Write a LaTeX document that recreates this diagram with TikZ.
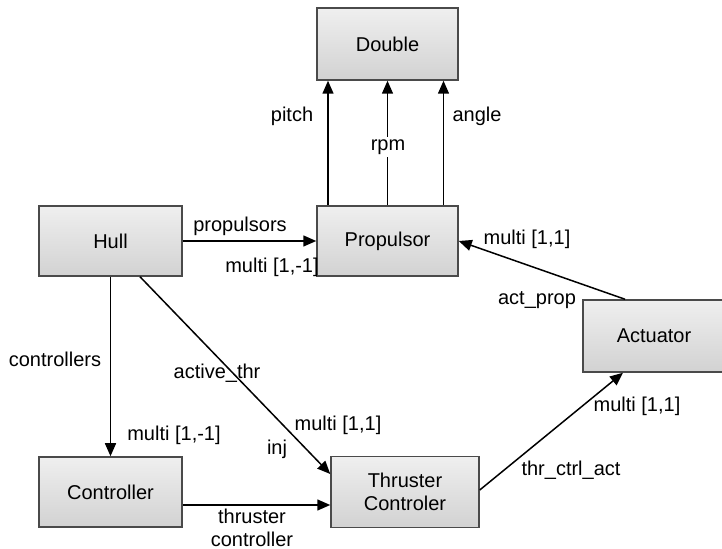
\documentclass[tikz,border=0pt]{standalone}
\usepackage{fontspec}
\setmainfont{Liberation Sans}
\usetikzlibrary{arrows.meta}

\definecolor{boxtop}{HTML}{EFEFEF}
\definecolor{boxbottom}{HTML}{D2D2D2}
\definecolor{boxline}{HTML}{4A4A4A}

\tikzset{
  classbox/.style={draw=boxline, line width=0.75pt, top color=boxtop,
    bottom color=boxbottom, inner sep=0pt, align=center,
    font=\fontsize{10}{11.5}\selectfont},
  arr/.style={draw=black, line width=0.75pt,
    -{Triangle[length=6.5pt,width=5.5pt]}},
  lbl/.style={inner sep=0pt, font=\fontsize{10}{11.5}\selectfont},
}

\begin{document}
\begin{tikzpicture}[x=0.5pt, y=-0.5pt]
  \useasboundingbox (0,0) rectangle (722,549);

  % classes
  \node[classbox, minimum width=70.5pt, minimum height=36pt] (Double)     at (387.5,44)  {Double};
  \node[classbox, minimum width=71.5pt, minimum height=35pt] (Hull)       at (110.5,241) {Hull};
  \node[classbox, minimum width=70.5pt, minimum height=35pt] (Propulsor)  at (387.5,241) {Propulsor};
  \node[classbox, minimum width=71pt,   minimum height=36pt] (Actuator)   at (654,336)   {Actuator};
  \node[classbox, minimum width=71.5pt, minimum height=35pt] (Controller) at (110.5,492) {Controller};
  \node[classbox, minimum width=74pt,   minimum height=35.5pt] (Thruster) at (405,492)   {Thruster\\Controler};

  % Propulsor attributes
  \draw[arr] ([xshift=-29.75pt]Propulsor.north) -- ([xshift=-29.75pt]Double.south);
  \draw[arr] (Propulsor.north) -- (Double.south);
  \draw[arr] ([xshift=28pt]Propulsor.north) -- ([xshift=28pt]Double.south);
  \node[lbl] (lpitch) at (292,116) {pitch};
  \node[lbl, fill=white, inner sep=1.5pt] (lrpm) at (388,147) {rpm};
  \node[lbl] (langle) at (477,116) {angle};

  % Hull -> Propulsor
  \draw[arr] (Hull.east) -- (Propulsor.west);
  \node[lbl] (lprops) at (240,226) {propulsors};
  \node[lbl] (lpropm) at (272,267) {multi [1,-1]};

  % Hull -> Controller
  \draw[arr] (Hull.south) -- (Controller.north);
  \node[lbl] (lctrls) at (55,359) {controllers};
  \node[lbl] (lctrlm) at (174,435) {multi [1,-1]};

  % Hull -> Thruster Controler
  \draw[arr] ([xshift=14.75pt]Hull.south) -- ([yshift=9pt]Thruster.west);
  \node[lbl] (lact) at (217,373) {active\_thr};
  \node[lbl] (lactm) at (338,425) {multi [1,1]};
  \node[lbl] (linj) at (277,449) {inj};

  % Controller -> Thruster Controler
  \draw[arr] ([yshift=-6.5pt]Controller.east) -- ([yshift=-6.5pt]Thruster.west);
  \node[lbl, align=center] (lthr) at (252,528) {thruster\\controller};

  % Thruster Controler -> Actuator
  \draw[arr] ([yshift=1pt]Thruster.east) -- ([xshift=-15.5pt]Actuator.south);
  \node[lbl] (ltca) at (571,470) {thr\_ctrl\_act};
  \node[lbl] (ltcam) at (637,406) {multi [1,1]};

  % Actuator -> Propulsor
  \draw[arr] ([xshift=-14.5pt]Actuator.north) -- (Propulsor.east);
  \node[lbl] (lapm) at (527,239) {multi [1,1]};
  \node[lbl] (lap) at (537,300) {act\_prop};
\end{tikzpicture}
\end{document}
